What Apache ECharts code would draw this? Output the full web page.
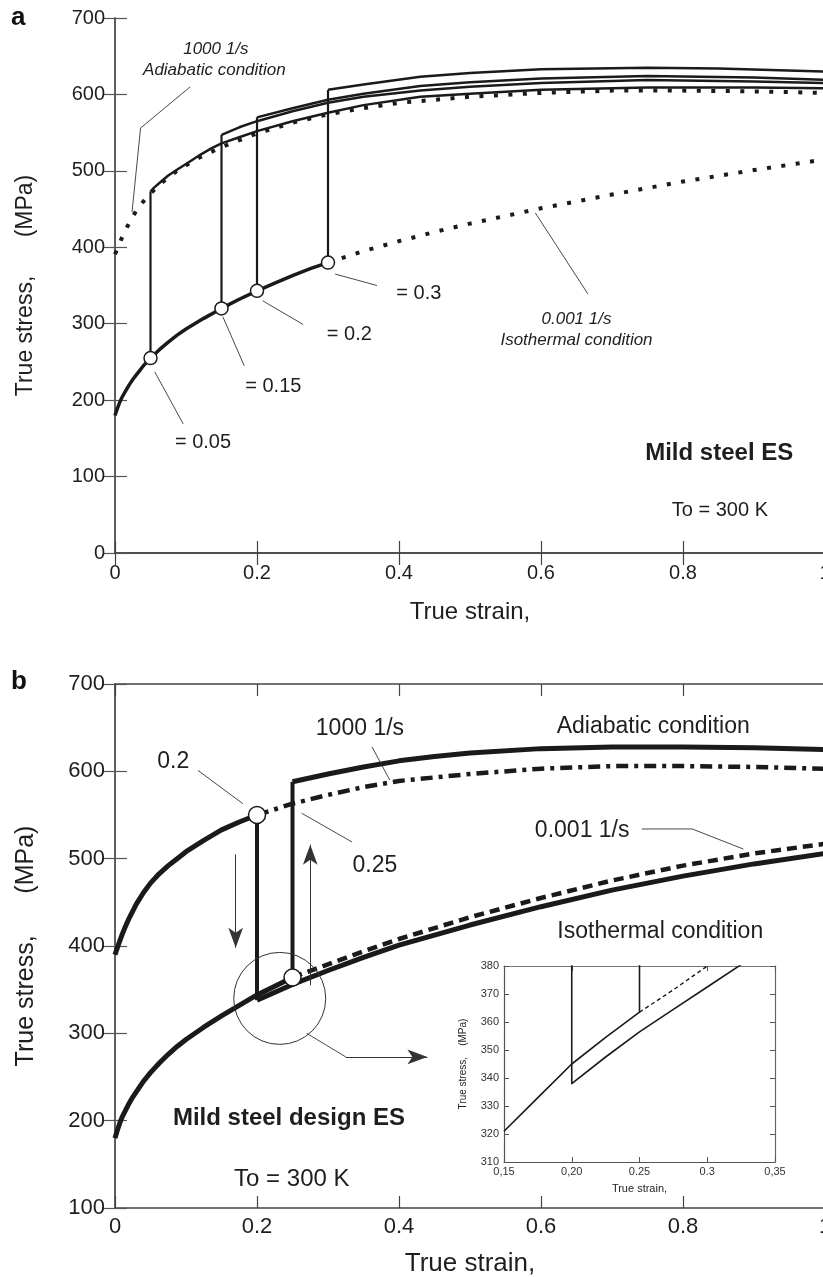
<!DOCTYPE html>
<html><head><meta charset="utf-8">
<script src="https://cdn.jsdelivr.net/npm/echarts@6/dist/echarts.min.js"></script>
<style>html,body{margin:0;padding:0;background:#fff}#c{width:823px;height:1277px}</style>
</head><body><div id="c"></div>
<script>
// ---------------- Panel a (top) ----------------
const isoStrainA = [0, 0.0025, 0.005, 0.0075, 0.01, 0.015, 0.02, 0.025, 0.03, 0.035, 0.04, 0.045, 0.05, 0.0625, 0.075, 0.0875, 0.1, 0.125, 0.15, 0.175, 0.2, 0.225, 0.25, 0.275, 0.3];
const isoStressA = [180, 187, 193, 199, 204, 212, 220, 227, 233, 239, 245, 250, 255, 266, 276, 285, 293, 307, 320, 332, 343, 353, 363, 372, 380];
const isoDotStrainA = [0.3, 0.35, 0.4, 0.45, 0.5, 0.55, 0.6, 0.65, 0.7, 0.8, 0.9, 1.0];
const isoDotStressA = [380, 395, 408, 420, 431, 441, 451, 460, 469, 486, 501, 515];
const adiDotStrainA = [0, 0.01, 0.02, 0.03, 0.045, 0.065, 0.09, 0.12, 0.15, 0.2, 0.25, 0.3, 0.35, 0.4, 0.5, 0.6, 0.7, 0.8, 0.9, 1.0];
const adiDotStressA = [391, 413, 432, 448, 466, 484, 502, 518, 531, 549, 563, 574, 582, 589, 597, 602, 605, 605, 604, 602];
const jumpStrainA = [0.05, 0.15, 0.2, 0.3];
const jumpLowA = [255, 320, 343, 380];
const jumpHighA = [473, 547, 570, 606];
const a05Strain = [0.05, 0.055, 0.065, 0.075, 0.09, 0.105, 0.12, 0.135, 0.15, 0.175, 0.2, 0.25, 0.3, 0.35, 0.43, 0.5, 0.6, 0.75, 0.9, 1.0];
const a05Stress = [473, 478, 486, 494, 503, 512, 521, 529, 536, 544, 552, 565, 576, 586, 597, 601, 606, 609, 609, 608];
const a15Strain = [0.15, 0.175, 0.2, 0.25, 0.3, 0.35, 0.43, 0.5, 0.6, 0.75, 0.9, 1.0];
const a15Stress = [547, 557, 565, 578, 589, 597, 605, 610, 615, 619, 617, 615];
const a20Strain = [0.2, 0.25, 0.3, 0.35, 0.43, 0.5, 0.6, 0.75, 0.9, 1.0];
const a20Stress = [570, 582, 593, 601, 611, 616, 621, 624, 622, 619];
const a30Strain = [0.3, 0.35, 0.43, 0.5, 0.6, 0.75, 0.85, 1.0];
const a30Stress = [606, 613, 623, 628, 633, 635, 634, 630];
const leadersA = [
  [[0.056, 237], [0.096, 169]],
  [[0.152, 309], [0.182, 245]],
  [[0.208, 330], [0.265, 299]],
  [[0.310, 365], [0.369, 350]],
  [[0.024, 446], [0.036, 556], [0.106, 610]],
  [[0.592, 445], [0.666, 339]]
];
const annTextA = ['= 0.05', '= 0.15', '= 0.2', '= 0.3', '1000 1/s', 'Adiabatic condition', '0.001 1/s', 'Isothermal condition', 'Mild steel ES', 'To = 300 K'];
const annPosA = [[0.124, 145], [0.223, 218], [0.330, 286], [0.428, 339], [0.142, 659], [0.140, 632], [0.650, 306], [0.650, 278], [0.851, 131], [0.852, 55]];

// ---------------- Panel b (bottom) ----------------
const isoStrainB = [0, 0.0025, 0.005, 0.0075, 0.01, 0.015, 0.02, 0.025, 0.03, 0.035, 0.04, 0.045, 0.05, 0.0625, 0.075, 0.0875, 0.1, 0.125, 0.15, 0.175, 0.2, 0.225, 0.25];
const isoStressB = [180, 187, 193, 199, 204, 212, 220, 227, 233, 239, 245, 250, 255, 266, 276, 285, 293, 307, 320, 332, 344, 354, 364];
const s1JumpStrain = 0.25, s1JumpLow = 364, s1JumpHigh = 588;
const s1Strain = [0.25, 0.3, 0.35, 0.4, 0.45, 0.5, 0.6, 0.7, 0.8, 0.9, 1.0];
const s1Stress = [588, 597, 605, 612, 617, 621, 626, 628, 628, 627, 625];
const adiStrainB = [0, 0.005, 0.01, 0.015, 0.02, 0.03, 0.04, 0.05, 0.0625, 0.075, 0.0875, 0.1, 0.125, 0.15, 0.175, 0.2];
const adiStressB = [390, 402, 413, 423, 432, 448, 461, 472, 483, 492, 500, 508, 521, 533, 542, 550];
const s2JumpStrain = 0.2, s2JumpHigh = 550, s2JumpLow = 338;
const s2Strain = [0.2, 0.25, 0.3, 0.35, 0.4, 0.5, 0.6, 0.7, 0.8, 0.9, 1.0];
const s2Stress = [338, 356, 372, 387, 401, 424, 445, 464, 480, 494, 506];
const dashDotStrainB = [0.2, 0.25, 0.3, 0.35, 0.4, 0.5, 0.6, 0.7, 0.8, 0.9, 1.0];
const dashDotStressB = [550, 563, 573, 582, 589, 597, 603, 606, 606, 605, 603];
const dashStrainB = [0.25, 0.3, 0.35, 0.4, 0.5, 0.6, 0.7, 0.8, 0.9, 1.0];
const dashStressB = [364, 379, 394, 408, 433, 455, 475, 492, 506, 517];
const circlesB = [[0.2, 550], [0.25, 364]];
const bigCircleB = [0.232, 340];
const leadersB = [
  [[0.117, 601], [0.18, 563]],
  [[0.263, 552], [0.334, 519]],
  [[0.362, 628], [0.387, 590]],
  [[0.742, 534], [0.813, 534], [0.885, 511]],
  [[0.27, 300], [0.325, 273]]
];
const arrowsB = [
  [[0.17, 505], [0.17, 398]],
  [[0.275, 355], [0.275, 516]],
  [[0.325, 273], [0.44, 273]]
];
const annTextB = ['0.2', '0.25', '1000 1/s', 'Adiabatic condition', '0.001 1/s', 'Isothermal condition', 'Mild steel design ES', 'To = 300 K'];
const annPosB = [[0.082, 611], [0.366, 492], [0.345, 649], [0.758, 651], [0.658, 532], [0.768, 416], [0.245, 203], [0.249, 133]];

// ---------------- Inset ----------------
const insetXTickLabels = ['0,15', '0,20', '0.25', '0.3', '0,35'];
const insetAStrain = [0.15, 0.175, 0.2, 0.225, 0.25, 0.25];
const insetAStress = [321, 333, 345, 354.5, 363.5, 400];
const insetDashStrain = [0.25, 0.275, 0.3];
const insetDashStress = [363.5, 371.5, 380];
const insetBStrain = [0.2, 0.2, 0.225, 0.25, 0.275, 0.3, 0.325];
const insetBStress = [400, 338, 347.5, 356.5, 364.5, 372.5, 380.5];

// ---------------- build ----------------
const FONT = '"Liberation Sans", Arial, Helvetica, sans-serif';
const INK = '#1a1a1a';
const TXT = '#1e1e1e';
const zip = (xs, ys) => xs.map((x, i) => [x, ys[i]]);

const chart = echarts.init(document.getElementById('c'), null, { renderer: 'canvas' });

function xAx(grid, opt) {
  return Object.assign({
    type: 'value', gridIndex: grid, min: 0, max: 1, interval: 0.2,
    axisLine: { show: true, lineStyle: { color: '#444', width: 1.5 } },
    axisTick: { show: true, inside: true, length: 12, lineStyle: { color: '#444', width: 1.2 } },
    splitLine: { show: false },
    axisLabel: { show: true, fontFamily: FONT, fontSize: 20, color: TXT, margin: 9 }
  }, opt);
}
function yAx(grid, opt) {
  return Object.assign({
    type: 'value', gridIndex: grid,
    axisLine: { show: true, lineStyle: { color: '#555', width: 1.5 } },
    axisTick: { show: true, inside: true, length: 12, lineStyle: { color: '#555', width: 1.2 } },
    splitLine: { show: false },
    axisLabel: { show: true, fontFamily: FONT, fontSize: 20, color: TXT, margin: 10 }
  }, opt);
}
const noLabel = { show: false };

const xAxis = [
  xAx(0, { position: 'bottom', name: 'True strain,', nameLocation: 'middle', nameGap: 47,
    nameTextStyle: { fontFamily: FONT, fontSize: 24, color: TXT },
    axisLabel: { fontFamily: FONT, fontSize: 20, color: TXT, margin: 10, formatter: v => String(v) } }),
  xAx(0, { position: 'top', axisLabel: noLabel }),
  xAx(1, { position: 'bottom', name: 'True strain,', nameLocation: 'middle', nameGap: 43,
    nameTextStyle: { fontFamily: FONT, fontSize: 26, color: TXT },
    axisLabel: { fontFamily: FONT, fontSize: 22, color: TXT, margin: 8, formatter: v => String(v) } }),
  xAx(1, { position: 'top', axisLabel: noLabel }),
  xAx(2, { position: 'bottom', min: 0.15, max: 0.35, interval: 0.05,
    name: 'True strain,', nameLocation: 'middle', nameGap: 21,
    nameTextStyle: { fontFamily: FONT, fontSize: 11, color: TXT },
    axisLine: { lineStyle: { color: '#555', width: 1.2 } },
    axisTick: { inside: true, length: 5, lineStyle: { color: '#555' } },
    axisLabel: { fontFamily: FONT, fontSize: 11, color: '#333', margin: 4,
      formatter: v => insetXTickLabels[Math.round((v - 0.15) / 0.05)] } }),
  xAx(2, { position: 'top', min: 0.15, max: 0.35, interval: 0.05, axisLabel: noLabel,
    axisLine: { lineStyle: { color: '#777', width: 1.2 } },
    axisTick: { inside: true, length: 5, lineStyle: { color: '#555' } } })
];
const yAxis = [
  yAx(0, { position: 'left', min: 0, max: 700, interval: 100,
    name: 'True stress,      (MPa)', nameLocation: 'middle', nameGap: 78, nameRotate: 90,
    nameTextStyle: { fontFamily: FONT, fontSize: 23, color: TXT } }),
  yAx(0, { position: 'right', min: 0, max: 700, interval: 100, axisLabel: noLabel }),
  yAx(1, { position: 'left', min: 100, max: 700, interval: 100,
    name: 'True stress,      (MPa)', nameLocation: 'middle', nameGap: 76, nameRotate: 90,
    nameTextStyle: { fontFamily: FONT, fontSize: 25, color: TXT },
    axisLabel: { fontFamily: FONT, fontSize: 22, color: TXT, margin: 10 } }),
  yAx(1, { position: 'right', min: 100, max: 700, interval: 100, axisLabel: noLabel }),
  yAx(2, { position: 'left', min: 310, max: 380, interval: 10,
    name: 'True stress,    (MPa)', nameLocation: 'middle', nameGap: 36, nameRotate: 90,
    nameTextStyle: { fontFamily: FONT, fontSize: 10, color: TXT },
    axisLine: { lineStyle: { color: '#555', width: 1.2 } },
    axisTick: { inside: true, length: 5, lineStyle: { color: '#555' } },
    axisLabel: { fontFamily: FONT, fontSize: 11, color: '#333', margin: 5 } }),
  yAx(2, { position: 'right', min: 310, max: 380, interval: 10, axisLabel: noLabel,
    axisLine: { lineStyle: { color: '#666', width: 1.2 } },
    axisTick: { inside: true, length: 5, lineStyle: { color: '#555' } } })
];

function line(xi, yi, data, style, extra) {
  return Object.assign({
    type: 'line', xAxisIndex: xi, yAxisIndex: yi, data: data, symbol: 'none', showSymbol: false,
    smooth: false, silent: true, animation: false,
    lineStyle: Object.assign({ color: INK, width: 2.5, cap: 'butt', join: 'round' }, style), z: 3
  }, extra || {});
}
function ann(xi, yi, texts, pos, styles) {
  return {
    type: 'scatter', xAxisIndex: xi, yAxisIndex: yi, symbolSize: 1, silent: true, animation: false, z: 6,
    itemStyle: { color: 'rgba(0,0,0,0)', opacity: 1 },
    data: texts.map((t, i) => ({
      name: t, value: pos[i],
      label: Object.assign({ show: true, position: 'inside', formatter: t, fontFamily: FONT, color: TXT,
        align: 'center', verticalAlign: 'middle', opacity: 1 }, styles[i])
    }))
  };
}
function circles(xi, yi, pts, size) {
  return {
    type: 'scatter', xAxisIndex: xi, yAxisIndex: yi, data: pts, symbol: 'circle', symbolSize: size,
    silent: true, animation: false, z: 8,
    itemStyle: { color: '#fff', borderColor: INK, borderWidth: 1.5, opacity: 1 }
  };
}

const series = [];
// Panel a
series.push(line(0, 0, zip(isoStrainA, isoStressA), { width: 3.5 }));
series.push(line(0, 0, zip(isoDotStrainA, isoDotStressA), { width: 4, type: [4, 10.5] }));
series.push(line(0, 0, zip(adiDotStrainA, adiDotStressA), { width: 4, type: [4, 10.5] }));
jumpStrainA.forEach((e, i) => series.push(line(0, 0, [[e, jumpLowA[i]], [e, jumpHighA[i]]], { width: 2.2 })));
series.push(line(0, 0, zip(a05Strain, a05Stress), { width: 2.5 }));
series.push(line(0, 0, zip(a15Strain, a15Stress), { width: 2.5 }));
series.push(line(0, 0, zip(a20Strain, a20Stress), { width: 2.5 }));
series.push(line(0, 0, zip(a30Strain, a30Stress), { width: 2.5 }));
leadersA.forEach(l => series.push(line(0, 0, l, { width: 0.9, color: '#333' })));
series.push(circles(0, 0, zip(jumpStrainA, jumpLowA), 13));
const sA = { fontSize: 20 };
const itA = { fontSize: 17, fontStyle: 'italic' };
series.push(ann(0, 0, annTextA, annPosA, [sA, sA, sA, sA, itA, itA, itA, itA,
  { fontSize: 24, fontWeight: 'bold' }, { fontSize: 20 }]));

// Panel b
series.push(line(2, 2, zip(isoStrainB, isoStressB), { width: 5 }));
series.push(line(2, 2, [[s1JumpStrain, s1JumpLow], [s1JumpStrain, s1JumpHigh]], { width: 4 }));
series.push(line(2, 2, zip(s1Strain, s1Stress), { width: 5 }));
series.push(line(2, 2, zip(adiStrainB, adiStressB), { width: 5 }));
series.push(line(2, 2, [[s2JumpStrain, s2JumpHigh], [s2JumpStrain, s2JumpLow]], { width: 4 }));
series.push(line(2, 2, zip(s2Strain, s2Stress), { width: 5 }));
series.push(line(2, 2, zip(dashDotStrainB, dashDotStressB), { width: 4.5, type: [12, 6, 4, 6] }));
series.push(line(2, 2, zip(dashStrainB, dashStressB), { width: 4.5, type: [10, 6] }));
leadersB.forEach(l => series.push(line(2, 2, l, { width: 0.9, color: '#333' })));
series.push({
  type: 'line', xAxisIndex: 2, yAxisIndex: 2, data: [], silent: true, animation: false,
  markLine: {
    silent: true, animation: false, symbol: ['none', 'arrow'], symbolSize: [11, 20],
    label: { show: false },
    lineStyle: { color: '#333', width: 1, type: 'solid' },
    data: arrowsB.map(a => [{ coord: a[0] }, { coord: a[1] }])
  }
});
series.push(circles(2, 2, circlesB, 17));
series.push({
  type: 'scatter', xAxisIndex: 2, yAxisIndex: 2, data: [bigCircleB], symbol: 'circle', symbolSize: 92,
  silent: true, animation: false, z: 7,
  itemStyle: { color: 'rgba(0,0,0,0)', borderColor: '#333', borderWidth: 1, opacity: 1 }
});
const sB = { fontSize: 23 };
series.push(ann(2, 2, annTextB, annPosB, [sB, sB, sB, sB, sB, sB,
  { fontSize: 24, fontWeight: 'bold' }, { fontSize: 24 }]));

// Inset
series.push(line(4, 4, zip(insetAStrain, insetAStress), { width: 1.6 }, { z: 10 }));
series.push(line(4, 4, zip(insetDashStrain, insetDashStress), { width: 1.4, type: [4, 3] }, { z: 10 }));
series.push(line(4, 4, zip(insetBStrain, insetBStress), { width: 1.6 }, { z: 10 }));

chart.setOption({
  animation: false,
  backgroundColor: '#fff',
  title: [
    { text: 'a', left: 6, top: 0, textStyle: { fontFamily: FONT, fontSize: 26, fontWeight: 'bold', color: '#111' } },
    { text: 'b', left: 6, top: 664, textStyle: { fontFamily: FONT, fontSize: 26, fontWeight: 'bold', color: '#111' } }
  ],
  grid: [
    { left: 115, top: 18, width: 710, height: 535, outerBoundsMode: 'none', containLabel: false },
    { left: 115, top: 684, width: 710, height: 524, outerBoundsMode: 'none', containLabel: false },
    { left: 504, top: 966, width: 271, height: 196, outerBoundsMode: 'none', containLabel: false }
  ],
  xAxis: xAxis,
  yAxis: yAxis,
  series: series
});
</script>
</body></html>
